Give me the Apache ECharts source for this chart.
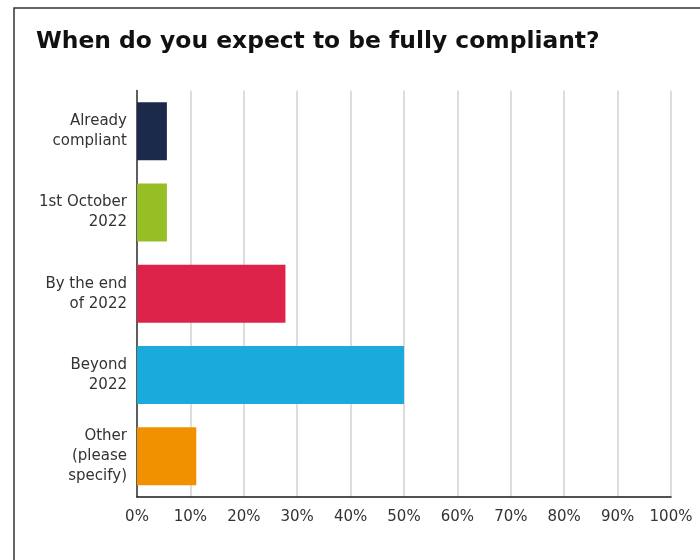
<!DOCTYPE html>
<html>
<head>
<meta charset="utf-8">
<script src="https://cdn.jsdelivr.net/npm/echarts@6/dist/echarts.min.js"></script>
<style>
  html, body { margin: 0; padding: 0; background: #ffffff; }
  #chart { width: 700px; height: 560px; }
</style>
</head>
<body>
<div id="chart"></div>
<script>
// Survey answers and share of respondents (%)
const categories = ['Already\ncompliant', '1st October\n2022', 'By the end\nof 2022', 'Beyond\n2022', 'Other\n(please\nspecify)'];
const shares = [5.6, 5.6, 27.8, 50, 11.1];
const barColors = ['#1b2a4b', '#96bf26', '#dd2349', '#1aabdc', '#f29100'];
const tickValues = [0, 10, 20, 30, 40, 50, 60, 70, 80, 90, 100];
const titleText = 'When do you expect to be fully compliant?';

const FONT = 'DejaVu Sans';

// Size the bold title so it spans the heading width
function fitFontSize(text, weight, family, targetWidth) {
  const ctx = document.createElement('canvas').getContext('2d');
  ctx.font = weight + ' 100px "' + family + '"';
  return Math.round(100 * targetWidth / ctx.measureText(text).width * 10) / 10;
}
const titleSize = fitFontSize(titleText, 'bold', FONT, 563);

const chart = echarts.init(document.getElementById('chart'), null, { renderer: 'canvas' });

chart.setOption({
  backgroundColor: '#ffffff',
  animation: false,
  title: {
    text: titleText,
    left: 36,
    top: 30,
    padding: 0,
    textStyle: {
      fontFamily: FONT,
      fontWeight: 'bold',
      fontSize: titleSize,
      color: '#111111'
    }
  },
  graphic: [
    {
      type: 'polyline',
      silent: true,
      shape: { points: [[14, 560], [14, 8], [700, 8]] },
      style: { stroke: '#333333', lineWidth: 1.5, fill: null }
    }
  ],
  grid: {
    left: 137,
    right: 29,
    top: 90.5,
    bottom: 63,
    containLabel: false
  },
  xAxis: {
    type: 'value',
    min: 0,
    max: 100,
    interval: 10,
    axisLine: { show: true, lineStyle: { color: '#1a1a1a', width: 1.5 } },
    axisTick: { show: false },
    splitLine: { show: true, lineStyle: { color: '#d2d2d2', width: 1.5 } },
    axisLabel: {
      margin: 13,
      fontFamily: FONT,
      fontSize: 15,
      color: '#333333',
      customValues: tickValues,
      formatter: v => v + '%'
    }
  },
  yAxis: {
    type: 'category',
    data: categories,
    inverse: true,
    axisLine: { show: true, onZero: false, lineStyle: { color: '#333333', width: 1.5 } },
    axisTick: { show: false },
    splitLine: { show: false },
    axisLabel: {
      margin: 10,
      fontFamily: FONT,
      fontSize: 15,
      lineHeight: 20,
      color: '#333333',
      align: 'right'
    }
  },
  series: [
    {
      type: 'bar',
      data: shares.map((v, i) => ({ value: v, itemStyle: { color: barColors[i] } })),
      barWidth: 58,
      silent: true
    }
  ]
});
</script>
</body>
</html>
